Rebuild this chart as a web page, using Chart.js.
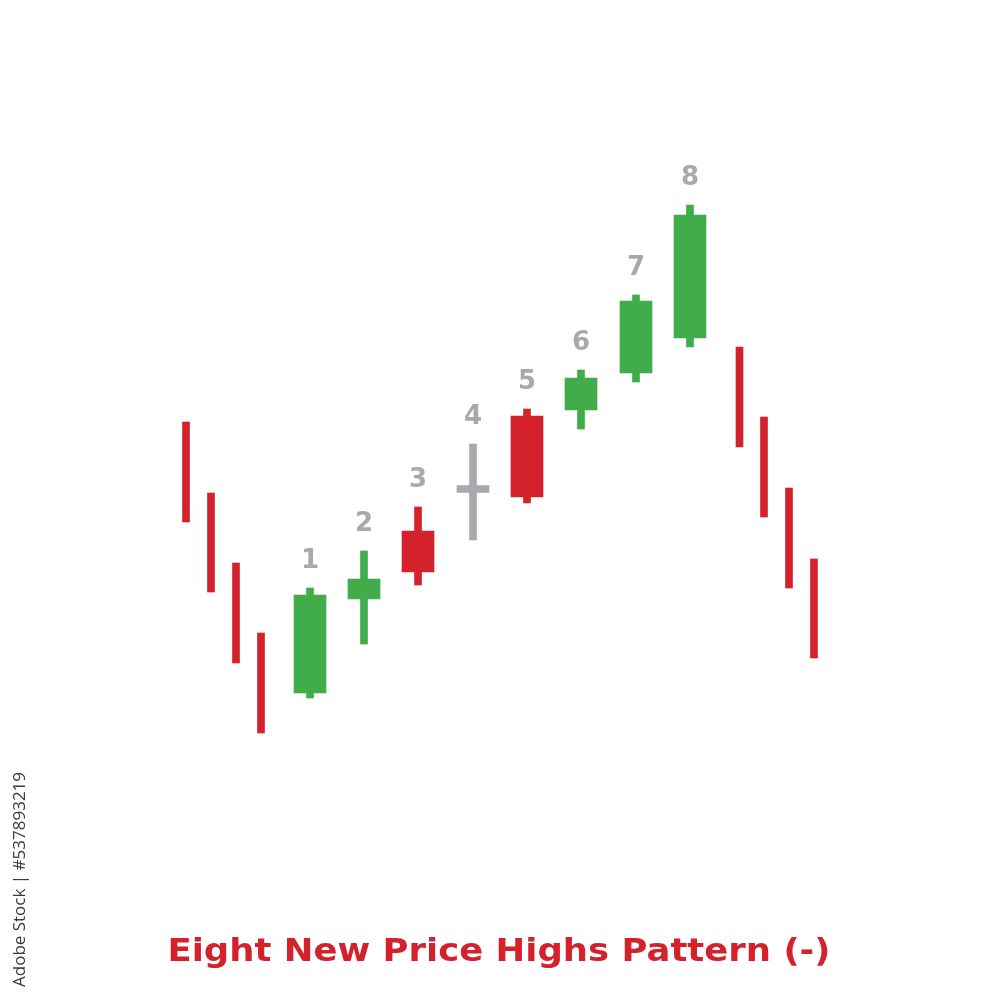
<!DOCTYPE html>
<html>
<head>
<meta charset="utf-8">
<script src="https://cdn.jsdelivr.net/npm/chart.js@4/dist/chart.umd.min.js"></script>
<style>
  html, body { margin: 0; padding: 0; background: #ffffff; }
  #wrap { width: 1000px; height: 1000px; position: relative; }
</style>
</head>
<body>
<div id="wrap"><canvas id="c"></canvas></div>
<script>
// ---- Data ----
const titleText = 'Eight New Price Highs Pattern (-)';
const sourceText = 'Adobe Stock | #537893219';

// preceding downtrend bars (left) and following downtrend bars (right)
const trendX    = [0, 1, 2, 3, 22.14, 23.12, 24.12, 25.12];
const trendHigh = [57.8, 50.7, 43.7, 36.7, 65.3, 58.3, 51.2, 44.1];
const trendLow  = [47.8, 40.8, 33.7, 26.7, 55.3, 48.3, 41.2, 34.2];

// the eight numbered candles
const candleLabels = ['1', '2', '3', '4', '5', '6', '7', '8'];
const candleX      = [4.96, 7.12, 9.28, 11.48, 13.64, 15.8, 18.0, 20.16];
const candleOpen   = [30.7, 40.1, 46.9, 51.1, 58.4, 59.0, 62.7, 66.2];
const candleClose  = [40.5, 42.1, 42.8, 51.1, 50.3, 62.2, 69.9, 78.5];
const candleHigh   = [41.2, 44.9, 49.3, 55.6, 59.1, 63.0, 70.5, 79.5];
const candleLow    = [30.2, 35.6, 41.5, 46.0, 49.7, 57.1, 61.8, 65.3];

// ---- Styles ----
const GREEN = '#41ad4a';
const RED = '#d3222b';
const GRAY = '#a7a9ac';

function candleColor(i) {
  if (candleClose[i] > candleOpen[i]) return GREEN;
  if (candleClose[i] < candleOpen[i]) return RED;
  return GRAY;
}

const trendData = trendX.map((x, i) => ({ x: x, y: [trendLow[i], trendHigh[i]] }));
const wickData = candleX.map((x, i) => ({ x: x, y: [candleLow[i], candleHigh[i]] }));
const bodyData = candleX.map((x, i) => {
  const o = candleOpen[i], c = candleClose[i];
  if (o === c) return { x: x, y: [o - 0.34, o + 0.34] }; // doji cross bar
  return { x: x, y: [Math.min(o, c), Math.max(o, c)] };
});

const labelPlugin = {
  id: 'candleLabels',
  afterDatasetsDraw(chart) {
    const ctx = chart.ctx;
    const xs = chart.scales.x, ys = chart.scales.y;
    ctx.save();
    ctx.fillStyle = GRAY;
    ctx.font = 'bold 26px "DejaVu Sans"';
    ctx.textAlign = 'center';
    ctx.textBaseline = 'middle';
    candleLabels.forEach((t, i) => {
      const px = xs.getPixelForValue(candleX[i]);
      const py = ys.getPixelForValue(candleHigh[i]) - 27;
      ctx.fillText(t, px, py);
    });
    ctx.restore();
  }
};

const textPlugin = {
  id: 'pageText',
  afterDraw(chart) {
    const ctx = chart.ctx;
    ctx.save();
    ctx.fillStyle = RED;
    ctx.font = 'bold 32px "DejaVu Sans"';
    ctx.textAlign = 'center';
    ctx.textBaseline = 'alphabetic';
    const w = ctx.measureText(titleText).width;
    const targetW = 663;
    ctx.translate(499, 961);
    ctx.scale(targetW / w, 1);
    ctx.fillText(titleText, 0, 0);
    ctx.restore();

    ctx.save();
    ctx.translate(20, 987);
    ctx.rotate(-Math.PI / 2);
    ctx.fillStyle = '#3a3a3a';
    ctx.font = '17px "Open Sans"';
    ctx.textAlign = 'left';
    ctx.textBaseline = 'middle';
    ctx.fillText(sourceText, 0, 0);
    ctx.restore();
  }
};

new Chart(document.getElementById('c'), {
  type: 'bar',
  data: {
    datasets: [
      {
        label: 'trend',
        data: trendData,
        backgroundColor: RED,
        barThickness: 7,
        grouped: false,
        borderWidth: 0
      },
      {
        label: 'wick',
        data: wickData,
        backgroundColor: candleX.map((_, i) => candleColor(i)),
        barThickness: 7,
        grouped: false,
        borderWidth: 0
      },
      {
        label: 'body',
        data: bodyData,
        backgroundColor: candleX.map((_, i) => candleColor(i)),
        barThickness: 32,
        grouped: false,
        borderWidth: 0
      }
    ]
  },
  options: {
    responsive: true,
    maintainAspectRatio: false,
    animation: false,
    layout: { padding: 0 },
    plugins: {
      legend: { display: false },
      tooltip: { enabled: false },
      title: { display: false }
    },
    scales: {
      x: { type: 'linear', min: -7.44, max: 32.56, offset: false, display: false },
      y: { type: 'linear', min: 0, max: 100, display: false }
    }
  },
  plugins: [labelPlugin, textPlugin]
});
</script>
</body>
</html>
